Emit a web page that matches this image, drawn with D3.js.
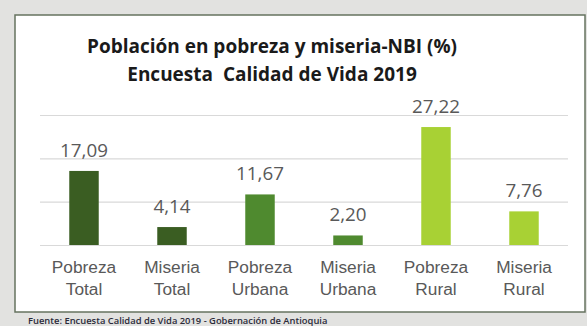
<!DOCTYPE html>
<html>
<head>
<meta charset="utf-8">
<script src="https://cdn.jsdelivr.net/npm/d3@7"></script>
<style>
  html, body { margin: 0; padding: 0; background: #e2e2e0; }
  svg { display: block; font-family: "Open Sans", sans-serif; font-stretch: normal; }
</style>
</head>
<body>
<div id="chart"></div>
<script>
const categories = ['Pobreza Total', 'Miseria Total', 'Pobreza Urbana', 'Miseria Urbana', 'Pobreza Rural', 'Miseria Rural']
const values = [17.09, 4.14, 11.67, 2.20, 27.22, 7.76]
const groups = ['total', 'total', 'urbana', 'urbana', 'rural', 'rural']
const yTicks = [0, 10, 20, 30]
const titleLines = ['Población en pobreza y miseria-NBI (%)', 'Encuesta  Calidad de Vida 2019']
const source = 'Fuente: Encuesta Calidad de Vida 2019 - Gobernación de Antioquia'

const width = 587
const height = 326

const svg = d3.select('#chart').append('svg')
    .attr('width', width)
    .attr('height', height)

// fondo gris y panel blanco
svg.append('rect')
    .attr('width', width).attr('height', height)
    .attr('fill', '#e2e2e0')
svg.append('rect')
    .attr('x', 15).attr('y', 15)
    .attr('width', 570).attr('height', 297)
    .attr('fill', '#ffffff')
    .attr('stroke', '#66735f')
    .attr('stroke-width', 1.5)

const fmt = d3.formatLocale({decimal: ',', thousands: '.', grouping: [3], currency: ['$', '']}).format('.2f')

const color = d3.scaleOrdinal()
    .domain(['total', 'urbana', 'rural'])
    .range(['#3a5d22', '#4f8a2f', '#a8d134'])

const x = d3.scaleBand()
    .domain(categories)
    .range([40, 568])
    .paddingInner(0.665)
    .paddingOuter(0.3325)

const y = d3.scaleLinear()
    .domain([0, 30])
    .range([245, 115])

// cuadrícula
svg.append('g')
    .attr('transform', 'translate(40,0)')
    .call(d3.axisLeft(y).tickValues(yTicks).tickSize(-528).tickFormat(''))
    .call(g => g.select('.domain').remove())
    .call(g => g.selectAll('line').attr('stroke', '#d9d9d9').attr('stroke-width', 1.2))

// barras
svg.append('g')
    .selectAll('rect')
    .data(values)
    .join('rect')
    .attr('x', (d, i) => x(categories[i]))
    .attr('y', d => y(d))
    .attr('width', x.bandwidth())
    .attr('height', d => y(0) - y(d))
    .attr('fill', (d, i) => color(groups[i]))

// etiquetas de valor
svg.append('g')
    .selectAll('text')
    .data(values)
    .join('text')
    .attr('x', (d, i) => x(categories[i]) + x.bandwidth() / 2)
    .attr('y', d => y(d) - 14)
    .attr('text-anchor', 'middle')
    .attr('font-size', 18.8)
    .attr('fill', '#595959')
    .text(d => fmt(d))

// eje x con dos líneas
svg.append('g')
    .attr('transform', `translate(0,${y(0)})`)
    .call(d3.axisBottom(x).tickSize(0).tickFormat(''))
    .call(g => g.select('.domain').remove())
    .call(g => g.selectAll('.tick').each(function (d) {
        const words = d.split(' ')
        const t = d3.select(this).append('text')
            .attr('text-anchor', 'middle')
            .attr('font-size', 17.3)
            .attr('fill', '#595959')
        words.forEach((w, i) => {
            t.append('tspan').attr('x', 0).attr('y', 28 + i * 22).text(w)
        })
    }))

// título
svg.append('text')
    .attr('x', 272)
    .attr('text-anchor', 'middle')
    .attr('font-weight', 'bold')
    .attr('font-size', 19)
    .attr('fill', '#1a1a1a')
    .selectAll('tspan')
    .data(titleLines)
    .join('tspan')
    .attr('x', 272)
    .attr('y', (d, i) => 53 + i * 28)
    .style('white-space', 'pre')
    .text(d => d)

// fuente
svg.append('text')
    .attr('x', 28)
    .attr('y', 324)
    .attr('font-size', 9.4)
    .attr('font-weight', 600)
    .attr('fill', '#2b2b3a')
    .text(source)
</script>
</body>
</html>
